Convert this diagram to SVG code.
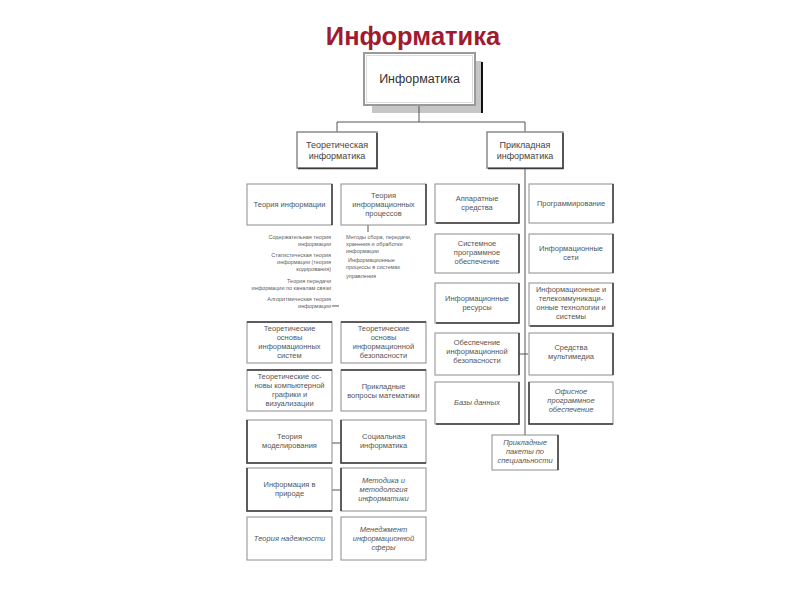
<svg xmlns="http://www.w3.org/2000/svg" width="800" height="600" viewBox="0 0 800 600">
<style>
.t{font-family:"Liberation Sans",Arial,sans-serif;fill:#555;font-size:7.5px;text-anchor:middle}
.i{font-style:italic}
.r{font-size:12.5px;fill:#333}
.l{font-size:9px;fill:#444}
.s{font-family:"Liberation Sans",Arial,sans-serif;fill:#606060;font-size:5.5px}
.b{fill:#fff;stroke:#8c8c8c;stroke-width:1}
.e{fill:none;stroke:#3a3a3a;stroke-width:1.5}
.c{fill:none;stroke:#555;stroke-width:1}
</style>
<rect width="800" height="600" fill="#fff"/>
<text x="413" y="45" font-family="'Liberation Sans',Arial,sans-serif" font-weight="bold" font-size="25.5" fill="#a01a30" text-anchor="middle">Информатика</text>

<g id="connectors">
<path class="c" d="M419 105V122M337 122H525M337 122V132M525 122V132"/>
<path class="c" d="M525 168V435" stroke-width="1.5"/>
<path class="c" d="M519 354H528"/>
<path class="c" d="M332 443H341M332 490H341M332 306H339M368 225V232"/>
</g>

<g id="root">
<rect x="372" y="61" width="110" height="52" fill="#c6c6c6"/>
<path d="M482 62V113" stroke="#111" stroke-width="2"/>
<path d="M419 105V113" stroke="#555" stroke-width="1"/>
<rect x="364" y="53" width="111" height="52" fill="#fff" stroke="#9a9a9a" stroke-width="2"/>
<rect x="366.5" y="55.5" width="106" height="47" fill="none" stroke="#d4d4d4" stroke-width="0.8"/>
<text class="t r" x="419.5" y="83">Информатика</text>
</g>

<g id="theor">
<rect x="297" y="132" width="80" height="36" fill="#fff" stroke="#8a8a8a" stroke-width="1.5"/>
<path class="e" d="M377 133V168.5H298" stroke-width="2"/>
<text class="t l" x="337" y="148">Теоретическая</text>
<text class="t l" x="337" y="159">информатика</text>
</g>

<g id="prikl">
<rect x="487" y="132" width="76" height="36" fill="#fff" stroke="#8a8a8a" stroke-width="1.5"/>
<path class="e" d="M563 133V168.5H488" stroke-width="2"/>
<text class="t l" x="525" y="148">Прикладная</text>
<text class="t l" x="525" y="159">информатика</text>
</g>

<g id="a1"><rect class="b" x="247" y="184" width="85" height="41"/><path class="e" d="M332 184V225"/>
<text class="t" x="289.5" y="207">Теория информации</text></g>
<g id="b1"><rect class="b" x="341" y="184" width="85" height="41"/><path class="e" d="M426 184V225"/>
<text class="t" x="383.5" y="198">Теория</text><text class="t" x="383.5" y="207">информационных</text><text class="t" x="383.5" y="216">процессов</text></g>

<g id="a1text" class="s" text-anchor="end">
<text x="331" y="239">Содержательная теория</text>
<text x="331" y="246">информации</text>
<text x="331" y="257">Статистическая теория</text>
<text x="331" y="264">информации (теория</text>
<text x="331" y="271">кодирования)</text>
<text x="331" y="283">Теория передачи</text>
<text x="331" y="290">информации по каналам связи</text>
<text x="331" y="301">Алгоритмическая теория</text>
<text x="331" y="308">информации</text>
</g>
<g id="b1text" class="s">
<text x="346" y="239">Методы сбора, передачи,</text>
<text x="346" y="246">хранения и обработки</text>
<text x="346" y="253">информации</text>
<text x="348" y="262">Информационные</text>
<text x="346" y="269">процессы в системах</text>
<text x="346" y="278">управления</text>
</g>

<g id="a2"><rect class="b" x="247" y="322" width="85" height="41"/><path class="e" d="M247 322H332"/>
<text class="t" x="289.5" y="331">Теоретические</text><text class="t" x="289.5" y="340">основы</text><text class="t" x="289.5" y="349">информационных</text><text class="t" x="289.5" y="358">систем</text></g>
<g id="b2"><rect class="b" x="341" y="322" width="85" height="41"/><path class="e" d="M341 322H426"/>
<text class="t" x="383.5" y="331">Теоретические</text><text class="t" x="383.5" y="340">основы</text><text class="t" x="383.5" y="349">информационной</text><text class="t" x="383.5" y="358">безопасности</text></g>

<g id="a3"><rect class="b" x="247" y="370" width="85" height="41"/><path class="e" d="M247 370H332"/>
<text class="t" x="289.5" y="379">Теоретические ос-</text><text class="t" x="289.5" y="388">новы компьютерной</text><text class="t" x="289.5" y="397">графики и</text><text class="t" x="289.5" y="406">визуализации</text></g>
<g id="b3"><rect class="b" x="341" y="370" width="85" height="41"/><path class="e" d="M341 370H426"/>
<text class="t" x="383.5" y="389">Прикладные</text><text class="t" x="383.5" y="398">вопросы математики</text></g>

<g id="a4"><rect class="b" x="247" y="420" width="85" height="43"/><path class="e" d="M247 420V463H332"/>
<text class="t" x="289.5" y="439">Теория</text><text class="t" x="289.5" y="448">моделирования</text></g>
<g id="b4"><rect class="b" x="341" y="420" width="85" height="43"/><path class="e" d="M341 420V463H426"/>
<text class="t" x="383.5" y="439">Социальная</text><text class="t" x="383.5" y="448">информатика</text></g>

<g id="a5"><rect class="b" x="247" y="468" width="85" height="43"/><path class="e" d="M247 468V511H332"/>
<text class="t" x="289.5" y="487">Информация в</text><text class="t" x="289.5" y="496">природе</text></g>
<g id="b5"><rect class="b" x="341" y="468" width="85" height="43"/><path class="e" d="M341 468V511"/>
<text class="t i" x="383.5" y="482.5">Методика и</text><text class="t i" x="383.5" y="491.5">методология</text><text class="t i" x="383.5" y="500.5">информатики</text></g>

<g id="a6"><rect class="b" x="247" y="517" width="85" height="43"/>
<text class="t i" x="289.5" y="541">Теория надежности</text></g>
<g id="b6"><rect class="b" x="341" y="517" width="85" height="43"/>
<text class="t i" x="383.5" y="532">Менеджмент</text><text class="t i" x="383.5" y="541">информационной</text><text class="t i" x="383.5" y="550">сферы</text></g>

<g id="c1"><rect class="b" x="435" y="184" width="84" height="39"/><path class="e" d="M519 184V223H436"/>
<text class="t" x="477" y="201">Аппаратные</text><text class="t" x="477" y="210">средства</text></g>
<g id="d1"><rect class="b" x="529" y="184" width="84" height="39"/><path class="e" d="M613 184V223"/>
<text class="t" x="571" y="206">Программирование</text></g>

<g id="c2"><rect class="b" x="435" y="234" width="84" height="39"/><path class="e" d="M519 234V273"/>
<text class="t" x="477" y="246">Системное</text><text class="t" x="477" y="255">программное</text><text class="t" x="477" y="264">обеспечение</text></g>
<g id="d2"><rect class="b" x="529" y="234" width="84" height="39"/><path class="e" d="M613 234V273"/>
<text class="t" x="571" y="251">Информационные</text><text class="t" x="571" y="260">сети</text></g>

<g id="c3"><rect class="b" x="435" y="283" width="84" height="40"/><path class="e" d="M519 283V323H436"/>
<text class="t" x="477" y="301">Информационные</text><text class="t" x="477" y="310">ресурсы</text></g>
<g id="d3"><rect class="b" x="529" y="283" width="84" height="43"/><path class="e" d="M613 283V326H530"/>
<text class="t" x="571" y="292">Информационные и</text><text class="t" x="571" y="301">телекоммуникаци-</text><text class="t" x="571" y="310">онные технологии и</text><text class="t" x="571" y="319">системы</text></g>

<g id="c4"><rect class="b" x="435" y="333" width="84" height="42"/><path class="e" d="M519 333V375"/>
<text class="t" x="477" y="345">Обеспечение</text><text class="t" x="477" y="354">информационной</text><text class="t" x="477" y="363">безопасности</text></g>
<g id="d4"><rect class="b" x="529" y="333" width="84" height="42"/><path class="e" d="M613 333V375"/>
<text class="t" x="571" y="350">Средства</text><text class="t" x="571" y="359">мультимедиа</text></g>

<g id="c5"><rect class="b" x="435" y="382" width="84" height="42"/><path class="e" d="M519 382V424H436"/>
<text class="t i" x="477" y="405">Базы данных</text></g>
<g id="d5"><rect class="b" x="529" y="382" width="84" height="42"/><path class="e" d="M529 382V424H613"/>
<text class="t i" x="571" y="394">Офисное</text><text class="t i" x="571" y="403">программное</text><text class="t i" x="571" y="412">обеспечение</text></g>

<g id="pp"><rect class="b" x="492" y="435" width="66" height="35"/><path class="e" d="M558 435V470"/>
<text class="t i" x="525" y="445">Прикладные</text><text class="t i" x="525" y="454">пакеты по</text><text class="t i" x="525" y="463">специальности</text></g>
</svg>
